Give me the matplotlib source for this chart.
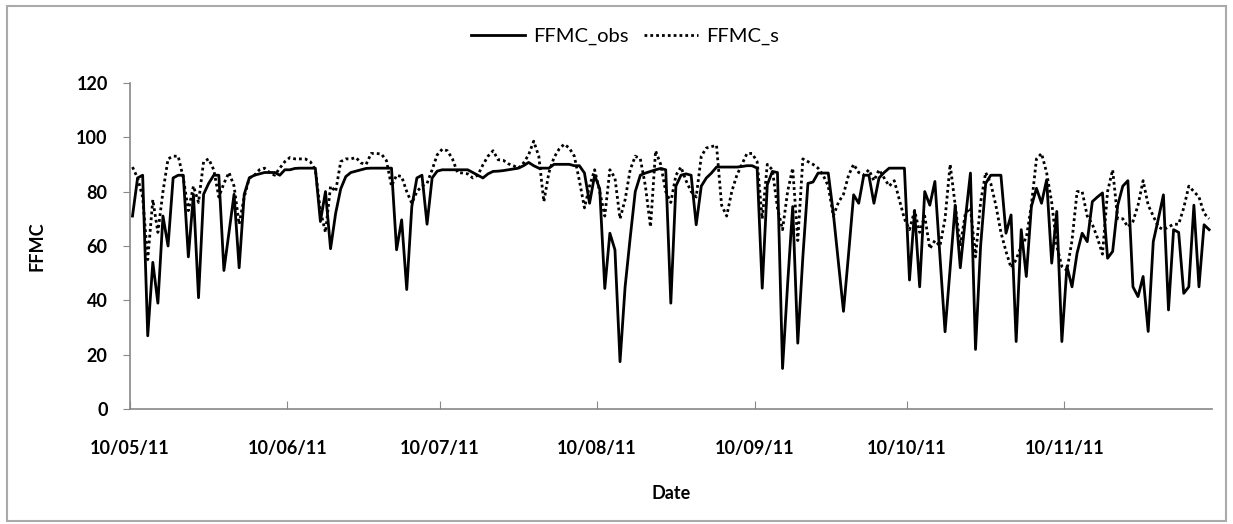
import numpy as np
import matplotlib
matplotlib.use('Agg')
import matplotlib.pyplot as plt
import matplotlib.dates as mdates
from matplotlib.patches import Rectangle
import datetime as dt

# daily FFMC values, 10 May 2011 onwards
ffmc_obs = [71, 85, 86, 27, 54, 39, 71, 60, 85, 86,
            86, 56, 79, 41, 79, 83, 86, 86, 51, 65,
            79, 52, 79, 85, 86, 86.5, 87, 87, 87, 86,
            88, 88, 88.5, 88.6, 88.6, 88.6, 88.6, 69, 80, 59,
            72, 81, 85.5, 87, 87.5, 88, 88.5, 88.6, 88.6, 88.6,
            88.6, 88.6, 58.6, 69.6, 44, 74.5, 85, 86, 68, 85,
            87.5, 88, 88, 88, 88, 88, 88, 87, 86, 85,
            86.5, 87.4, 87.5, 87.7, 88, 88.3, 88.6, 89.5, 90.7, 89.5,
            88.6, 88.6, 88.6, 90, 90, 90, 90, 89.5, 89.5, 86.8,
            75.7, 86, 81, 44.4, 64.7, 58.6, 17.5, 45, 63, 80,
            86, 86.8, 87.4, 88, 88.5, 88, 39, 82, 86, 86.5,
            86, 67.8, 82, 85, 86.8, 89, 89, 89, 89, 89,
            89.2, 89.5, 89.5, 88.6, 44.5, 82.5, 87.4, 87, 15, 46,
            74.5, 24.3, 56, 83, 83.5, 86.8, 86.8, 86.8, 72, 54,
            36, 57, 78.8, 75.7, 86, 86, 75.7, 85, 87, 88.6,
            88.6, 88.6, 88.6, 47.5, 73, 45, 80, 75, 83.7, 56,
            28.5, 52, 75, 52, 70, 86.8, 22, 60, 83, 86,
            86, 86, 64.7, 71.4, 24.9, 66, 48.8, 74.5, 81.2, 75.7,
            84.3, 53.7, 72.7, 24.9, 52.5, 45, 57.4, 64.7, 61.6, 76.3,
            78, 79.5, 55.5, 58, 75, 82, 84, 45, 41.4, 48.8,
            28.6, 61.6, 70, 78.8, 36.5, 66, 65, 42.6, 45, 75,
            45, 67.8, 66]

ffmc_s = [89, 85, 78, 55, 77, 65, 80, 92, 93, 93,
          85, 73, 82, 76, 91, 92, 88, 78, 83, 87,
          82, 68, 78, 85, 86, 88, 88.6, 87, 86, 88.6,
          91, 92.5, 92, 92, 92, 91, 88, 73, 65, 82,
          80, 91, 92, 92, 92.5, 90.5, 90, 94, 94, 93.8,
          91.4, 82, 86, 85.5, 80, 75.7, 80, 82, 83, 88,
          93.5, 95.6, 95, 92, 87, 86.8, 86.5, 85, 86, 89.8,
          93, 95, 91.7, 91.5, 90.2, 89.5, 88.6, 90.5, 93.5, 98.5,
          93, 76.3, 87, 92.5, 95.6, 97.4, 96, 93, 84, 74,
          82, 88, 80, 71, 88, 85, 70, 77, 88, 93,
          92, 82, 67, 95, 90, 80, 76, 86, 89, 84,
          80, 78, 93, 96, 96.5, 97, 75, 71, 80, 86,
          90, 94, 94, 91, 70, 90, 88, 74, 66, 80,
          88.6, 62, 92, 91, 90, 88.6, 86, 82, 71, 76,
          79, 86, 90, 87, 86, 88, 84, 88, 85, 82,
          84, 77, 70, 66, 73, 65, 71, 59, 62, 60,
          70, 90, 75, 60, 72, 74, 56, 76, 87, 83,
          75, 65, 58, 52, 55, 60, 63, 75, 92, 94,
          87, 76, 60, 52.5, 51, 62, 80, 80, 71, 68,
          63, 57, 80, 88, 70, 70, 67, 69, 75, 84,
          75, 71, 67, 66, 67, 68, 68, 74, 82, 80,
          78, 72, 70]

start = dt.datetime(2011, 5, 10)
dates = [start + dt.timedelta(days=i, hours=12) for i in range(len(ffmc_obs))]
tick_dates = [dt.datetime(2011, m, 10) for m in range(5, 12)]

plt.rcParams['font.family'] = ['Lato', 'DejaVu Sans']

fig = plt.figure(figsize=(12.33, 5.24), dpi=100)
ax = fig.add_axes([0.1054, 0.2189, 0.8773, 0.6233])

ax.plot(dates, ffmc_obs, color='black', lw=2.0, label='FFMC_obs')
ax.plot(dates, ffmc_s, color='black', lw=2.0, ls=(0, (1, 1.1)), label='FFMC_s')

ax.set_xlim(start, start + dt.timedelta(days=213))
ax.set_ylim(0, 120)
ax.set_yticks(np.arange(0, 121, 20))
ax.set_xticks(tick_dates)
ax.xaxis.set_major_formatter(mdates.DateFormatter('%d/%m/%y'))

for side in ['top', 'right']:
    ax.spines[side].set_visible(False)
for side in ['left', 'bottom']:
    ax.spines[side].set_color('#888888')
    ax.spines[side].set_linewidth(1.2)
ax.tick_params(axis='x', direction='in', length=6, color='#888888', pad=22, labelsize=13)
ax.tick_params(axis='y', direction='out', length=5, color='#888888', pad=11, labelsize=13)
for lbl in ax.get_xticklabels() + ax.get_yticklabels():
    lbl.set_fontweight('bold')

ax.set_xlabel('Date', fontsize=13, fontweight='bold', labelpad=20)
ax.set_ylabel('FFMC', fontsize=13, fontweight='bold', labelpad=22)

fig.legend(loc='center', bbox_to_anchor=(0.507, 0.93), ncol=2, frameon=False,
           fontsize=14.5, handlelength=2.7, columnspacing=0.75, handletextpad=0.4)

fig.patches.append(Rectangle((0.006, 0.006), 0.988, 0.982, transform=fig.transFigure,
                             fill=False, edgecolor='#aaaaaa', lw=1.5))

fig.savefig('out.png', dpi=100)
